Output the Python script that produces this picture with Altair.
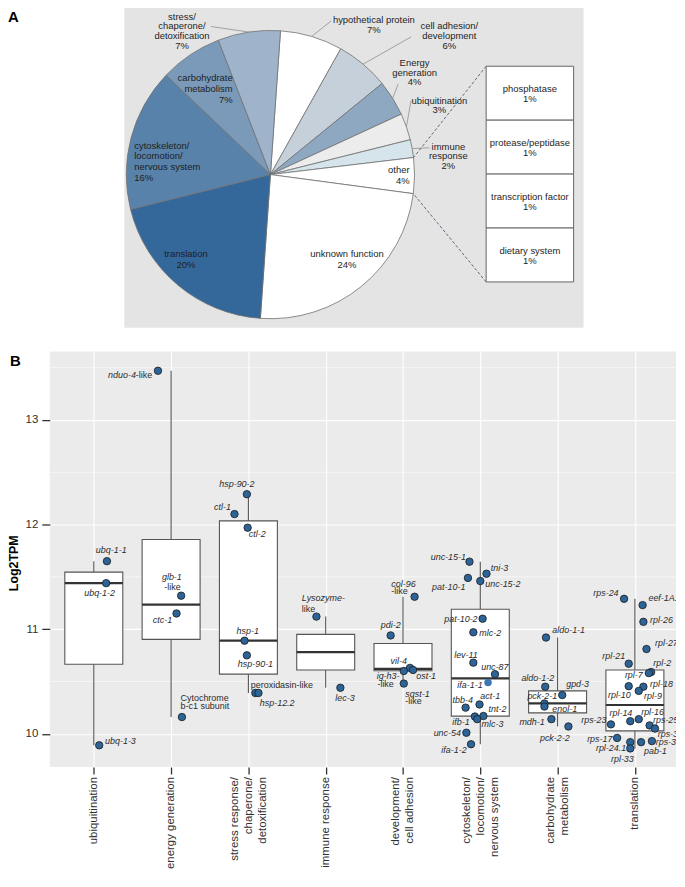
import json
import math
import altair as alt
import pandas as pd

# ------------------------------------------------------------------ Panel A values
SLICE_NAMES = ["hypothetical protein", "cell adhesion/development", "Energy generation",
               "ubiquitination", "immune response", "other", "unknown function", "translation",
               "cytoskeleton/locomotion/nervous system", "carbohydrate metabolism",
               "stress/chaperone/detoxification"]
SLICE_PCT = [7, 6, 4, 3, 2, 4, 24, 20, 16, 7, 7]
SLICE_TEXT = ["hypothetical protein", "cell adhesion/\ndevelopment", "Energy\ngeneration",
              "ubiquitination", "immune\nresponse", "other", "unknown function", "translation",
              "cytoskeleton/\nlocomotion/\nnervous system", "carbohydrate\nmetabolism",
              "stress/\nchaperone/\ndetoxification"]
OTHER_NAMES = ["phosphatase", "protease/peptidase", "transcription factor", "dietary system"]
OTHER_PCT = [1, 1, 1, 1]

# ------------------------------------------------------------------ Panel B values
CATEGORY_LINES = [["ubiquitination"], ["energy generation"],
                  ["stress response/", "chaperone/", "detoxification"], ["immune response"],
                  ["development/", "cell adhesion"], ["cytoskeleton/", "locomotion/", "nervous system"],
                  ["carbohydrate", "metabolism"], ["translation"]]
Y_TITLE = "Log2TPM"

GENE = ["ubq-1-1", "ubq-1-2", "ubq-1-3",
        "nduo-4-like", "glb-1-like", "ctc-1", "Cytochrome b-c1 subunit",
        "hsp-90-2", "ctl-1", "ctl-2", "hsp-1", "hsp-90-1", "peroxidasin-like", "hsp-12.2",
        "Lysozyme-like", "lec-3",
        "col-96-like", "pdi-2", "vil-4", "ost-1", "ig-h3-like", "sqst-1-like",
        "unc-15-1", "tni-3", "pat-10-1", "unc-15-2", "pat-10-2", "mlc-2", "lev-11", "unc-87",
        "ifa-1-1", "tbb-4", "act-1", "tnt-2", "ifb-1", "mlc-3", "unc-54", "ifa-1-2",
        "aldo-1-1", "aldo-1-2", "gpd-3", "pck-2-1", "enol-1", "mdh-1", "pck-2-2",
        "rps-24", "eef-1A.2", "rpl-26", "rpl-27", "rpl-21", "rpl-2", "rpl-7", "rpl-18", "rpl-10",
        "rpl-9", "rpl-14", "rpl-16", "rps-23", "rps-25", "rps-30", "rps-17", "rpl-24.1", "rpl-33",
        "pab-1", "rps-3"]
GENE_CATEGORY = [1, 1, 1,
                 2, 2, 2, 2,
                 3, 3, 3, 3, 3, 3, 3,
                 4, 4,
                 5, 5, 5, 5, 5, 5,
                 6, 6, 6, 6, 6, 6, 6, 6, 6, 6, 6, 6, 6, 6, 6, 6,
                 7, 7, 7, 7, 7, 7, 7,
                 8, 8, 8, 8, 8, 8, 8, 8, 8, 8, 8, 8, 8, 8, 8, 8, 8, 8, 8, 8]
LOG2TPM = [11.65, 11.44, 9.89,
           13.47, 11.32, 11.15, 10.16,
           12.29, 12.10, 11.97, 10.89, 10.75, 10.39, 10.39,
           11.12, 10.44,
           11.31, 10.94, 10.63, 10.61, 10.60, 10.48,
           11.645, 11.53, 11.49, 11.46, 11.10, 10.97, 10.68, 10.57, 10.49, 10.25, 10.28, 10.17,
           10.165, 10.14, 10.01, 9.90,
           10.92, 10.45, 10.37, 10.29, 10.26, 10.14, 10.07,
           11.29, 11.23, 11.07, 10.81, 10.67, 10.59, 10.58, 10.45, 10.455, 10.41, 10.12, 10.14,
           10.09, 10.08, 10.05, 9.96, 9.92, 9.86, 9.92, 9.93]
JITTER = [0.17, 0.16, 0.07,
          -0.17, 0.13, 0.07, 0.14,
          -0.02, -0.18, -0.01, -0.05, -0.02, 0.09, 0.13,
          -0.12, 0.19,
          0.15, -0.16, 0.09, 0.13, 0.01, 0.01,
          -0.14, 0.08, -0.16, 0.0, 0.03, -0.09, -0.09, 0.19, 0.10, -0.19, -0.01, 0.04,
          -0.07, -0.04, -0.18, -0.12,
          -0.15, -0.16, 0.06, -0.17, -0.17, -0.08, 0.14,
          -0.14, 0.10, 0.11, 0.15, -0.08, 0.21, 0.18, 0.11, -0.08, 0.05, -0.06, 0.05,
          -0.31, 0.19, 0.26, -0.23, -0.06, -0.06, 0.08, 0.22]

# gene labels (text, category, offset from category, log2TPM, align, italic)
GENE_LABELS = [
    ("ubq-1-1", 1, 0.225, 11.754, "center", 1), ("ubq-1-2", 1, 0.075, 11.349, "center", 1),
    ("ubq-1-3", 1, 0.145, 9.932, "left", 1),
    ("nduo-4", 2, -0.456, 13.427, "right", 1), ("-like", 2, -0.456, 13.427, "left", 0),
    ("glb-1", 2, 0.01, 11.498, "center", 1), ("-like", 2, 0.018, 11.399, "center", 0),
    ("ctc-1", 2, -0.111, 11.084, "center", 1),
    ("Cytochrome", 2, 0.122, 10.346, "left", 0), ("b-c1 subunit", 2, 0.122, 10.262, "left", 0),
    ("hsp-90-2", 3, -0.149, 12.383, "center", 1), ("ctl-1", 3, -0.227, 12.165, "right", 1),
    ("ctl-2", 3, 0.005, 11.907, "left", 1), ("hsp-1", 3, -0.008, 10.981, "center", 1),
    ("hsp-90-1", 3, 0.091, 10.670, "center", 1), ("peroxidasin-like", 3, 0.031, 10.467, "left", 0),
    ("hsp-12.2", 3, 0.147, 10.290, "left", 1),
    ("Lysozyme-", 4, -0.309, 11.293, "left", 1), ("like", 4, -0.309, 11.193, "left", 0),
    ("lec-3", 4, 0.25, 10.346, "center", 1),
    ("col-96", 5, -0.151, 11.433, "left", 1), ("-like", 5, -0.151, 11.36, "left", 0),
    ("pdi-2", 5, -0.158, 11.044, "center", 1), ("vil-4", 5, -0.055, 10.694, "center", 1),
    ("ig-h3-", 5, -0.341, 10.554, "left", 1), ("-like", 5, -0.331, 10.477, "left", 0),
    ("ost-1", 5, 0.171, 10.554, "left", 1),
    ("sqst-1", 5, 0.03, 10.377, "left", 1), ("-like", 5, 0.03, 10.311, "left", 0),
    ("unc-15-1", 6, -0.185, 11.694, "right", 1), ("tni-3", 6, 0.136, 11.589, "left", 1),
    ("pat-10-1", 6, -0.193, 11.402, "right", 1), ("unc-15-2", 6, 0.064, 11.427, "left", 1),
    ("pat-10-2", 6, -0.035, 11.10, "right", 1), ("mlc-2", 6, -0.013, 10.96, "left", 1),
    ("lev-11", 6, -0.185, 10.754, "center", 1), ("unc-87", 6, 0.188, 10.638, "center", 1),
    ("ifa-1-1", 6, 0.03, 10.467, "right", 1), ("tbb-4", 6, -0.228, 10.327, "center", 1),
    ("act-1", 6, 0.0, 10.358, "left", 1), ("tnt-2", 6, 0.223, 10.234, "center", 1),
    ("ifb-1", 6, -0.25, 10.112, "center", 1), ("mlc-3", 6, 0.017, 10.091, "left", 1),
    ("unc-54", 6, -0.25, 10.003, "right", 1), ("ifa-1-2", 6, -0.176, 9.844, "right", 1),
    ("aldo-1-1", 7, -0.069, 10.991, "left", 1), ("aldo-1-2", 7, -0.044, 10.53, "right", 1),
    ("gpd-3", 7, 0.111, 10.477, "left", 1), ("pck-2-1", 7, -0.198, 10.362, "center", 1),
    ("enol-1", 7, -0.069, 10.234, "left", 1), ("mdh-1", 7, -0.166, 10.109, "right", 1),
    ("pck-2-2", 7, -0.036, 9.963, "center", 1),
    ("rps-24", 8, -0.211, 11.349, "right", 1), ("eef-1A.2", 8, 0.175, 11.293, "left", 1),
    ("rpl-26", 8, 0.196, 11.084, "left", 1), ("rpl-27", 8, 0.26, 10.866, "left", 1),
    ("rpl-21", 8, -0.126, 10.741, "right", 1), ("rpl-2", 8, 0.239, 10.673, "left", 1),
    ("rpl-7", 8, 0.102, 10.561, "right", 1), ("rpl-18", 8, 0.196, 10.477, "left", 1),
    ("rpl-10", 8, -0.053, 10.367, "right", 1), ("rpl-9", 8, 0.118, 10.358, "left", 1),
    ("rpl-14", 8, -0.181, 10.196, "center", 1), ("rpl-16", 8, 0.081, 10.212, "left", 1),
    ("rps-23", 8, -0.367, 10.134, "right", 1), ("rps-25", 8, 0.234, 10.134, "left", 1),
    ("rps-30", 8, 0.295, 9.993, "left", 1), ("rps-17", 8, -0.29, 9.953, "right", 1),
    ("rpl-24.1", 8, -0.112, 9.86, "right", 1), ("rpl-33", 8, -0.162, 9.754, "center", 1),
    ("pab-1", 8, 0.117, 9.838, "left", 1), ("rps-3", 8, 0.269, 9.922, "left", 1),
]

# ------------------------------------------------------------------ styles / layout
FONT = "Liberation Sans"
SLICE_COLORS = ["#ffffff", "#c6d0da", "#8fa8c1", "#ececec", "#d5e5eb", "#ffffff", "#ffffff",
                "#35689a", "#5882aa", "#7b9aba", "#9fb4cb"]
PLOT_W = 630                 # shared view width of both panels
A_H = 325
B_H = 418
BG_X1, BG_X2 = 75, 537       # grey background of panel A (view coordinates)
OX = BG_X1                   # panel A drawing origin
CX, CY, R = OX + 147, 171, 145
START_DEG = 4
# label anchor (first line centre), align, leader start (outer labels only); relative to OX
PIE_LABEL_POS = {
    "hypothetical protein": (251, 15, "center", (208, 16.5)),
    "cell adhesion/development": (327, 21, "center", (288.5, 32.5)),
    "Energy generation": (292, 58, "center", (275.5, 80)),
    "ubiquitination": (317, 96, "center", (288.5, 96.5)),
    "immune response": (326, 142, "center", (307, 144)),
    "other": (287, 166, "right", None),
    "unknown function": (224, 250, "center", None),
    "translation": (62, 250, "center", None),
    "cytoskeleton/locomotion/nervous system": (10, 141, "left", None),
    "carbohydrate metabolism": (109, 73, "right", None),
    "stress/chaperone/detoxification": (58, 11.3, "center", (87, 22)),
}
BOX_X1, BOX_X2, BOX_Y1, BOX_Y2 = OX + 364, OX + 452, 62, 279

# ------------------------------------------------------------------ Panel A
AX = alt.Scale(domain=[0, PLOT_W], nice=False, zero=False)
AY = alt.Scale(domain=[0, A_H], nice=False, zero=False, reverse=True)

start = math.radians(START_DEG)
total = sum(SLICE_PCT)
angles = {}
cum = 0
for n, p in zip(SLICE_NAMES, SLICE_PCT):
    a0 = start + 2 * math.pi * cum / total
    cum += p
    a1 = start + 2 * math.pi * cum / total
    angles[n] = (a0, a1)


def edge(a):
    return CX + R * math.sin(a), CY - R * math.cos(a)


background = alt.Chart(pd.DataFrame({"v": [0]})).mark_rect(fill="#e4e4e4").encode(
    x=alt.value(BG_X1), x2=alt.value(BG_X2), y=alt.value(0), y2=alt.value(A_H))

slices = pd.DataFrame({"name": SLICE_NAMES, "pct": SLICE_PCT, "order": list(range(len(SLICE_NAMES)))})
arc = alt.Chart(slices).mark_arc(outerRadius=R, stroke="#707070", strokeWidth=0.8).encode(
    theta=alt.Theta("pct:Q", stack=True, scale=alt.Scale(range=[start, start + 2 * math.pi])),
    order=alt.Order("order:Q"),
    color=alt.Color("name:N", scale=alt.Scale(domain=SLICE_NAMES, range=SLICE_COLORS), legend=None),
    x=alt.value(CX), y=alt.value(CY),
)

seg_rows = []
for n in SLICE_NAMES:
    lead = PIE_LABEL_POS[n][3]
    if lead is not None:
        ex, ey = edge(sum(angles[n]) / 2)
        seg_rows.append({"x": OX + lead[0], "y": lead[1], "x2": ex, "y2": ey})
leaders = alt.Chart(pd.DataFrame(seg_rows)).mark_rule(color="#8f8f8f", strokeWidth=0.8).encode(
    x=alt.X("x:Q", scale=AX, axis=None), y=alt.Y("y:Q", scale=AY, axis=None),
    x2="x2:Q", y2="y2:Q")

ox1, oy1 = edge(angles["other"][0])
ox2, oy2 = edge(angles["other"][1])
dash_df = pd.DataFrame({"x": [BOX_X1, BOX_X1], "y": [BOX_Y1, BOX_Y2], "x2": [ox1, ox2], "y2": [oy1, oy2]})
dashed = alt.Chart(dash_df).mark_rule(color="#4e5d72", strokeWidth=0.9, strokeDash=[3, 2]).encode(
    x=alt.X("x:Q", scale=AX, axis=None), y=alt.Y("y:Q", scale=AY, axis=None),
    x2="x2:Q", y2="y2:Q")

lab_rows = []
for n, t, p in zip(SLICE_NAMES, SLICE_TEXT, SLICE_PCT):
    x, y, al, lead = PIE_LABEL_POS[n]
    lab_rows.append({"text": f"{t}\n{p}%", "x": OX + x, "y": y, "align": al,
                     "outer": lead is not None})
lab_df = pd.DataFrame(lab_rows)
pie_text_layers = []
for (al, outer), sub in lab_df.groupby(["align", "outer"]):
    pie_text_layers.append(
        alt.Chart(sub).mark_text(align=al, baseline="top", dy=-4.2, fontSize=9.5,
                                 lineHeight=9.7 if outer else 11, lineBreak="\n",
                                 color="#1e1e1e", font=FONT).encode(
            x=alt.X("x:Q", scale=AX, axis=None), y=alt.Y("y:Q", scale=AY, axis=None),
            text="text:N"))

others = pd.DataFrame({"name": OTHER_NAMES, "pct": OTHER_PCT})
others["label"] = [f"{n}\n{p}%" for n, p in zip(OTHER_NAMES, OTHER_PCT)]
box_y = alt.Y("name:N", sort=OTHER_NAMES, axis=None,
              scale=alt.Scale(domain=OTHER_NAMES, range=[BOX_Y1, BOX_Y2], paddingInner=0, paddingOuter=0))
cells = alt.Chart(others).mark_rect(fill="white", stroke="#666666", strokeWidth=1).encode(
    y=box_y, x=alt.value(BOX_X1), x2=alt.value(BOX_X2))
cell_text = alt.Chart(others).mark_text(baseline="top", dy=-9.2, fontSize=9.5, lineHeight=10.5,
                                        lineBreak="\n", color="#1e1e1e", font=FONT).encode(
    y=box_y, x=alt.value((BOX_X1 + BOX_X2) / 2), text="label:N")

letter_a = alt.Chart(pd.DataFrame({"t": ["A"]})).mark_text(
    align="left", baseline="top", fontSize=15, fontWeight="bold", color="black", font=FONT).encode(
    text="t:N", x=alt.value(-42), y=alt.value(6))

panel_a = alt.layer(background, arc, leaders, dashed, *pie_text_layers, cells, cell_text,
                    letter_a).resolve_scale(y="independent").properties(
    width=PLOT_W, height=A_H, view=alt.ViewBackground(fill=None, stroke=None))

# ------------------------------------------------------------------ Panel B
pts = pd.DataFrame({"idx": GENE_CATEGORY, "gene": GENE, "log2tpm": LOG2TPM, "jitter": JITTER})
labels = pd.DataFrame(GENE_LABELS, columns=["text", "idx", "dx", "y", "align", "italic"])

XS = alt.Scale(domain=[0.43, 0.43 + PLOT_W / 77.76], nice=False, zero=False)
YS = alt.Scale(domain=[9.682, 13.654], nice=False, zero=False)

label_expr = f"{json.dumps(CATEGORY_LINES)}[round(datum.value) - 1]"
offset_cond = [{"test": f"round(datum.value) == {i + 1}", "value": -(6.1 + (len(l) - 1) * 7)}
               for i, l in enumerate(CATEGORY_LINES)]
X_AXIS = alt.Axis(values=list(range(1, len(CATEGORY_LINES) + 1)), labelExpr=label_expr, title=None,
                  labelAngle=-90, labelAlign="right", labelBaseline="top", labelFontSize=11.5,
                  labelColor="#303030", labelPadding=2.5, labelLineHeight=14,
                  labelOffset={"condition": offset_cond, "value": 0},
                  labelOverlap=False, labelFlush=False, labelBound=False, labelLimit=300,
                  tickSize=7, tickWidth=1.3, tickColor="#333333", domain=False,
                  grid=True, gridColor="white", gridWidth=1.1)
Y_AXIS = alt.Axis(values=[10, 11, 12, 13], format="d", title=None,
                  labelFontSize=11.5, labelColor="#303030", labelPadding=4,
                  tickSize=8, tickWidth=1.3, tickColor="#333333", domain=False,
                  grid=True, gridColor="white", gridWidth=1.1)


def XB(f):
    return alt.X(f"{f}:Q", scale=XS, axis=X_AXIS)


def YB(f):
    return alt.Y(f"{f}:Q", scale=YS, axis=Y_AXIS)


minor = alt.Chart(pd.DataFrame({"v": [10.5, 11.5, 12.5, 13.5]})).mark_rule(
    color="white", strokeWidth=0.55).encode(y=YB("v"))

whisk = alt.Chart(pts).transform_aggregate(
    lo="min(log2tpm)", hi="max(log2tpm)", groupby=["idx"]).mark_rule(
    color="#555555", strokeWidth=1.1).encode(x=XB("idx"), y=YB("lo"), y2=alt.Y2("hi:Q"))

box_base = alt.Chart(pts).transform_aggregate(
    q1="q1(log2tpm)", q3="q3(log2tpm)", med="median(log2tpm)", groupby=["idx"]).transform_calculate(
    left="datum.idx - 0.375", right="datum.idx + 0.375")
box = box_base.mark_rect(fill="white", stroke="#555555", strokeWidth=1.1).encode(
    x=XB("left"), x2=alt.X2("right:Q"), y=YB("q1"), y2=alt.Y2("q3:Q"))
median = box_base.mark_rule(color="#333333", strokeWidth=2.2).encode(
    x=XB("left"), x2=alt.X2("right:Q"), y=YB("med"))

points = alt.Chart(pts).transform_calculate(pos="datum.idx + datum.jitter").mark_circle(
    size=56, opacity=1, stroke="#1a1a1a", strokeWidth=0.8).encode(
    x=XB("pos"), y=YB("log2tpm"),
    color=alt.condition("datum.gene === 'ifa-1-1'", alt.value("#3b78b3"), alt.value("#2d6497")),
    strokeOpacity=alt.condition("datum.gene === 'ifa-1-1'", alt.value(0), alt.value(1)))

gene_text_layers = []
for (al, it), sub in labels.groupby(["align", "italic"]):
    gene_text_layers.append(
        alt.Chart(sub).transform_calculate(pos="datum.idx + datum.dx").mark_text(
            align=al, baseline="middle", fontSize=9, fontStyle="italic" if it else "normal",
            color="#2b2b2b", clip=True, font=FONT).encode(
            x=XB("pos"), y=YB("y"), text="text:N"))

y_title = alt.Chart(pd.DataFrame({"t": [Y_TITLE]})).mark_text(
    angle=270, align="center", baseline="top", fontSize=12.5, fontWeight="bold", color="black",
    font=FONT).encode(text="t:N", x=alt.value(-42), y=alt.value(B_H / 2 + 4))

letter_b = alt.Chart(pd.DataFrame({"t": ["B"]})).mark_text(
    align="left", baseline="top", fontSize=15, fontWeight="bold", color="black", font=FONT).encode(
    text="t:N", x=alt.value(-40), y=alt.value(3))

panel_b = alt.layer(minor, whisk, box, median, points, *gene_text_layers, y_title, letter_b).properties(
    width=PLOT_W, height=B_H, view=alt.ViewBackground(fill="#ebebeb", stroke=None))

chart = alt.vconcat(panel_a, panel_b, spacing=24).properties(
    padding={"left": 0, "top": -6, "right": 0, "bottom": 0}
).configure(font=FONT).configure_view(stroke=None)

chart.save("out.html", embed_options={"renderer": "svg", "actions": False})
